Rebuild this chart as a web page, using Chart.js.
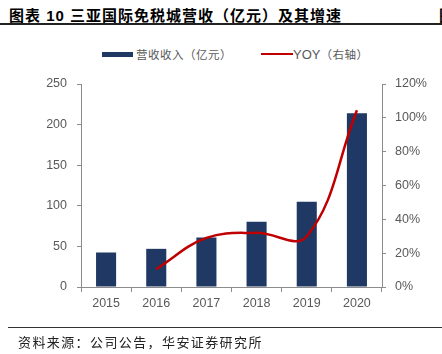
<!DOCTYPE html>
<html>
<head>
<meta charset="utf-8">
<script src="https://cdn.jsdelivr.net/npm/chart.js@4"></script>
<style>
  html, body { margin: 0; padding: 0; background: #fff; }
  body { width: 442px; height: 354px; position: relative; overflow: hidden;
    font-family: "Liberation Sans", Arial, "Noto Sans CJK SC", sans-serif; }
  #titulo { position: absolute; left: 9px; top: 4px; font-size: 15px; font-weight: bold;
    letter-spacing: 1px; color: #000; white-space: nowrap; font-family: "Liberation Sans", "Noto Sans CJK SC", sans-serif; }
  #canto { position: absolute; left: 439px; top: 4px; font-size: 15px; font-weight: bold; font-family: "Noto Sans CJK SC"; }
  #linha1 { position: absolute; left: 0; top: 23px; width: 442px; height: 1.5px; background: #222; }
  #linha2 { position: absolute; left: 8px; top: 327px; width: 434px; height: 1px; background: #333; }
  #fonte { position: absolute; left: 18px; top: 332px; font-size: 13px; letter-spacing: 1.4px; color: #222;
    white-space: nowrap; font-family: "Noto Sans CJK SC", sans-serif; }
  .leg { position: absolute; top: 46px; font-size: 12px; color: #595959; white-space: nowrap; }
  .leg span.en { font-family: "Liberation Sans", Arial; font-size: 13px; }
  .leg span.zh { font-family: "Noto Sans CJK SC"; font-size: 11.5px; letter-spacing: 0.5px; }
  #sw1 { position: absolute; left: 102px; top: 52px; width: 31px; height: 5px; background: #1f3864; }
  #sw2 { position: absolute; left: 261px; top: 53px; width: 32px; height: 2px; background: #c00000; }
  canvas { position: absolute; left: 0; top: 0; }
</style>
</head>
<body>
<div id="titulo">图表 10&nbsp;三亚国际免税城营收（亿元）及其增速</div>
<div id="canto">图</div>
<div id="linha1"></div>
<div id="sw1"></div>
<div class="leg" style="left:136px"><span class="zh">营收收入（亿元）</span></div>
<div id="sw2"></div>
<div class="leg" style="left:293px"><span class="en">YOY</span><span class="zh">（右轴）</span></div>
<canvas id="grafico" width="442" height="354"></canvas>
<div id="linha2"></div>
<div id="fonte">资料来源：公司公告，华安证券研究所</div>
<script>
"use strict";

const ANOS = ["2015", "2016", "2017", "2018", "2019", "2020"];
const RECEITA = [42.5, 47, 61, 80.3, 105, 214];       // 营收收入（亿元）
const YOY = [null, 10.6, 29, 32, 30, 104.5];          // 同比增速 %

const CINZA = "#595959";
const EIXO = "#8c8c8c";

Chart.defaults.font.family = "'Liberation Sans', Arial, sans-serif";
Chart.defaults.font.size = 12.5;
Chart.defaults.color = CINZA;

new Chart(document.getElementById("grafico"), {
  data: {
    labels: ANOS,
    datasets: [
      { type: "line", data: YOY, yAxisID: "y2", borderColor: "#c00000", borderWidth: 2.5,
        pointRadius: 0, tension: 0.4, spanGaps: true, order: 0 },
      { type: "bar", data: RECEITA, yAxisID: "y", backgroundColor: "#1f3864",
        barPercentage: 0.8, categoryPercentage: 0.5, order: 1 },
    ],
  },
  options: {
    responsive: false,
    animation: false,
    layout: { padding: { top: 84, left: 0, right: 0, bottom: 0 } },
    plugins: { legend: { display: false }, tooltip: { enabled: false } },
    scales: {
      x: {
        offset: true,
        grid: { offset: true, drawOnChartArea: false, color: EIXO, tickLength: 5 },
        border: { color: EIXO, width: 1 },
        ticks: { padding: 4, color: CINZA },
        afterFit: (s) => { s.height = 67; },
      },
      y: {
        position: "left", min: 0, max: 250,
        ticks: { stepSize: 50, padding: 10, color: CINZA },
        grid: { drawOnChartArea: false, color: EIXO, tickLength: 4 },
        border: { color: EIXO, width: 1 },
        afterFit: (s) => { s.width = 81; },
      },
      y2: {
        position: "right", min: 0, max: 120,
        ticks: { stepSize: 20, padding: 9, color: CINZA, callback: (v) => v + "%" },
        grid: { drawOnChartArea: false, color: EIXO, tickLength: 4 },
        border: { color: EIXO, width: 1 },
        afterFit: (s) => { s.width = 60; },
      },
    },
  },
});
</script>
</body>
</html>
